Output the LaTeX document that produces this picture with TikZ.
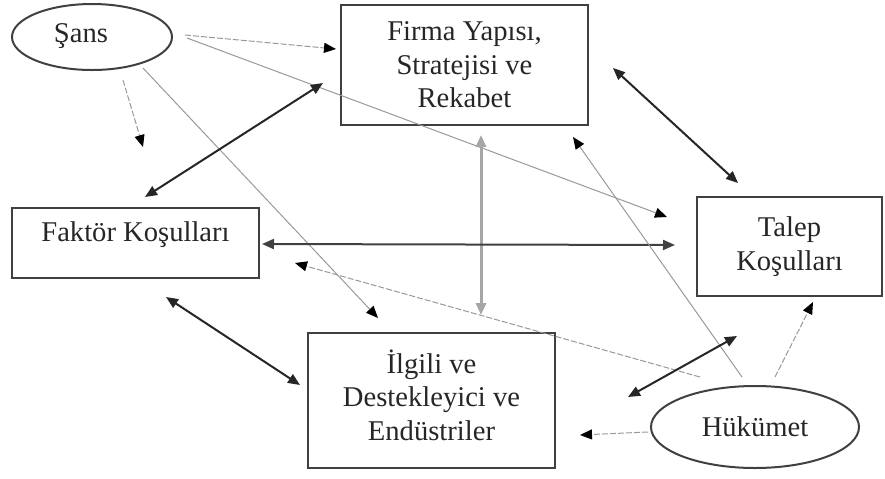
\documentclass[tikz,border=0pt]{standalone}
\usepackage{fontspec}
\setmainfont{Liberation Serif}
\usetikzlibrary{arrows.meta,shapes.geometric}

\tikzset{
    kutu/.style = {draw = black!75, line width = 1.3pt, rectangle, align = center, inner sep = 0pt},
    elips/.style = {draw = black!75, line width = 1pt, ellipse, inner sep = 0pt},
    koyu/.style = {line width = 1pt, black!85, {Triangle[length=6pt,width=5pt]}-{Triangle[length=6pt,width=5pt]}},
    acik/.style = {line width = 0.5pt, black!40, -{Triangle[length=6pt,width=5pt,black]}},
    kesik/.style = {acik, dash pattern = on 3pt off 1pt}
}

\begin{document}
\begin{tikzpicture}[x = 0.5pt, y = -0.5pt, font = \fontsize{14.3}{16.8}\selectfont, text = black!85]
        \useasboundingbox (0,0) rectangle (885,478);

        \node[elips, minimum width = 80pt, minimum height = 33pt] (sans) at (92,37) {};
        \node (sansYazi) at (81,36) {Şans};
        \node[elips, minimum width = 104pt, minimum height = 41pt] (hukumet) at (755,427) {Hükümet};

        \node[kutu, minimum width = 123.5pt, minimum height = 60pt] (firma) at (464.5,65) {Firma Yapısı,\\ Stratejisi ve\\ Rekabet};
        \node[kutu, minimum width = 123.5pt, text height = 16.5pt, text depth = 18.5pt] (faktor) at (135.5,243) {Faktör Koşulları};
        \node[kutu, minimum width = 92.5pt, minimum height = 49.5pt] (talep) at (789.5,246.5) {Talep\\ Koşulları};
        \node[kutu, minimum width = 123.5pt, minimum height = 67.5pt] (ilgili) at (431.5,400.5) {};
        \node[align = center] (ilgiliYazi) at (431.5,395) {İlgili ve\\ Destekleyici ve\\ Endüstriler};

        % serbest uclar
        \coordinate (sansF) at (185,35);   \coordinate (firmaS) at (336,49);
        \coordinate (sansT) at (187,38);   \coordinate (talepS) at (667,217);
        \coordinate (sansA) at (123,80);   \coordinate (bos) at (143,147);
        \coordinate (sansI) at (143,68);   \coordinate (ilgiliS) at (378,318);
        \coordinate (firmaK) at (323,83);  \coordinate (faktorF) at (145,197);
        \coordinate (firmaT) at (613,68);  \coordinate (talepF) at (738,183);
        \coordinate (firmaI) at (481,135); \coordinate (ilgiliF) at (481,315);
        \coordinate (faktorT) at (262,244); \coordinate (talepK) at (675,245);
        \coordinate (faktorI) at (166,297); \coordinate (ilgiliK) at (300,385);
        \coordinate (hukK) at (700,377);   \coordinate (faktorH) at (295,263);
        \coordinate (hukF) at (742,377);   \coordinate (firmaH) at (573,137);
        \coordinate (hukI) at (737,336);   \coordinate (ilgiliH) at (628,397);
        \coordinate (hukT) at (775,377);   \coordinate (talepH) at (813,302);
        \coordinate (hukE) at (648,432);   \coordinate (ilgiliE) at (580,435);

        % sans
        \draw[kesik] (sansF) -- (firmaS);
        \draw[acik] (sansT) -- (talepS);
        \draw[kesik] (sansA) -- (bos);
        \draw[acik] (sansI) -- (ilgiliS);

        % elmas
        \draw[koyu] (firmaK) -- (faktorF);
        \draw[koyu] (firmaT) -- (talepF);
        \draw[koyu, black!35, line width = 1.5pt] (firmaI) -- (ilgiliF);
        \draw[koyu, black!75] (faktorT) -- (talepK);
        \draw[koyu] (faktorI) -- (ilgiliK);

        % hukumet
        \draw[kesik] (hukK) -- (faktorH);
        \draw[acik] (hukF) -- (firmaH);
        \draw[koyu] (hukI) -- (ilgiliH);
        \draw[kesik] (hukT) -- (talepH);
        \draw[kesik] (hukE) -- (ilgiliE);
\end{tikzpicture}
\end{document}
